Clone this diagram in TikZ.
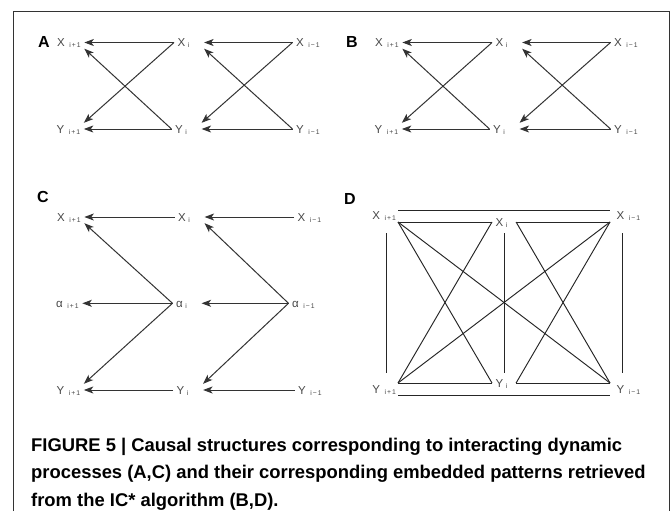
\documentclass[tikz,border=0pt]{standalone}
\usepackage{fontspec}
\setmainfont{Liberation Sans}
\usetikzlibrary{arrows.meta,calc}

% subscripted vertex labels
\newcommand{\subf}{\fontsize{6.8}{6.8}\selectfont}
\newcommand{\idxp}[1]{#1\hspace{4.5pt}\raisebox{-1pt}{\subf i\hspace{1pt}+\hspace{1pt}1}}
\newcommand{\idxz}[1]{#1\hspace{2.5pt}\raisebox{-1pt}{\subf i}}
\newcommand{\idxm}[1]{#1\hspace{4.5pt}\raisebox{-1pt}{\subf i\hspace{1pt}−\hspace{1pt}1}}
% middle label with a wider box, so incoming arrows stop short of it
\newcommand{\idxzw}[1]{\idxz{#1}\kern11pt\relax}

\tikzset{
  vlab/.style={font=\fontsize{11.5}{11.5}\selectfont, text=black!72, inner xsep=3.5pt,
    inner ysep=2pt, text height=8pt, text depth=0pt, anchor=base west},
  plab/.style={font=\bfseries\fontsize{16}{16}\selectfont, anchor=base, inner sep=0pt},
  arr/.style={draw=black!80, line width=1pt, -{Stealth[length=9.5pt,width=7pt,inset=2.5pt]}},
  und/.style={draw=black!85, line width=0.95pt},
  capline/.style={font=\bfseries\fontsize{18.4}{18.4}\selectfont, anchor=base west, inner sep=0pt},
}

% two crossed lag-one structures (panels A and B)
\newcommand{\crosspanel}[2]{%
  \begin{scope}[xshift=#2pt]
    \node[vlab] (#1x1) at (53.5,46.5) {\idxp{X}};
    \node[vlab] (#1x0) at (174,46.5) {\idxzw{X}};
    \node[vlab] (#1xm) at (292.5,46.5) {\idxm{X}};
    \node[vlab] (#1y1) at (53,133) {\idxp{Y}};
    \node[vlab] (#1y0) at (171.5,133) {\idxzw{Y}};
    \node[vlab] (#1ym) at (292.5,133) {\idxm{Y}};
    \draw[arr] (#1x0.west) -- (#1x1.east);
    \draw[arr] (#1xm.west) -- (#1x0.east);
    \draw[arr] (#1y0.west) -- (#1y1.east);
    \draw[arr] (#1ym.west) -- (#1y0.east);
    \draw[arr] (#1x0.west) -- (#1y1.north east);
    \draw[arr] (#1y0.west) -- (#1x1.south east);
    \draw[arr] (#1xm.west) -- (#1y0.north east);
    \draw[arr] (#1ym.west) -- (#1x0.south east);
  \end{scope}}

\begin{document}
\begin{tikzpicture}[x=1pt, y=-1pt]
  \useasboundingbox (0,0) rectangle (671,511);
  \fill[white] (0,0) rectangle (671,511);

  % frame, open at the bottom
  \draw[black!80, line width=1pt] (13,511) -- (13,12) -- (669.5,12) -- (669.5,511);

  % panel letters
  \node[plab] (la) at (44,48) {A};
  \node[plab] (lb) at (352,48) {B};
  \node[plab] (lc) at (43,202) {C};
  \node[plab] (ld) at (350,204) {D};

  % panels A and B
  \crosspanel{a}{0}
  \crosspanel{b}{318}

  % panel C
  \node[vlab] (xc1) at (53.5,221) {\idxp{X}};
  \node[vlab] (xc0) at (174.5,221) {\idxzw{X}};
  \node[vlab] (xcm) at (294,221) {\idxm{X}};
  \node[vlab] (ac1) at (52.5,307.3) {\idxp{α}};
  \node[vlab] (ac0) at (172.5,307.3) {\idxzw{α}};
  \node[vlab] (acm) at (288.5,307.3) {\idxm{α}};
  \node[vlab] (yc1) at (53,394) {\idxp{Y}};
  \node[vlab] (yc0) at (173,394) {\idxzw{Y}};
  \node[vlab] (ycm) at (294.5,394) {\idxm{Y}};
  \draw[arr] (xc0.west) -- (xc1.east);
  \draw[arr] (xcm.west) -- (xc0.east);
  \draw[arr] (ac0.west) -- (ac1.east);
  \draw[arr] (acm.west) -- (ac0.east);
  \draw[arr] (yc0.west) -- (yc1.east);
  \draw[arr] (ycm.west) -- (yc0.east);
  \draw[arr] (ac0.west) -- (xc1.south east);
  \draw[arr] (ac0.west) -- (yc1.north east);
  \draw[arr] (acm.west) -- (xc0.south east);
  \draw[arr] (acm.west) -- (yc0.north east);

  % panel D
  \node[vlab, anchor=south east, inner xsep=2pt] (xd1) at (398,222) {\idxp{X}};
  \node[vlab, anchor=west] (xd0) at (492,222) {\idxz{X}};
  \node[vlab, anchor=south west, inner xsep=6.5pt] (xdm) at (610,222) {\idxm{X}};
  \node[vlab, anchor=north east, inner xsep=2pt] (yd1) at (398,383) {\idxp{Y}};
  \node[vlab, anchor=west] (yd0) at (492,383) {\idxz{Y}};
  \node[vlab, anchor=north west, inner xsep=6.5pt] (ydm) at (610,383) {\idxm{Y}};
  \draw[und] (xd1.south east) -- (xd0.west);
  \draw[und] (xd1.south east) -- (yd0.west);
  \draw[und] (xd1.south east) -- (ydm.north west);
  \draw[und] (yd1.north east) -- (yd0.west);
  \draw[und] (yd1.north east) -- (xd0.west);
  \draw[und] (yd1.north east) -- (xdm.south west);
  \draw[und] (xdm.south west) -- ($(xd0.east)+(5,0)$);
  \draw[und] (xdm.south west) -- ($(yd0.east)+(5,0)$);
  \draw[und] (ydm.north west) -- ($(yd0.east)+(5,0)$);
  \draw[und] (ydm.north west) -- ($(xd0.east)+(5,0)$);
  % links drawn beside the labels
  \draw[und] ($(xd1.south east)+(-12,11)$) -- ($(yd1.north east)+(-12,-10)$);
  \draw[und] ($(xd0.west)+(12,11)$) -- ($(yd0.west)+(12,-10)$);
  \draw[und] ($(xdm.south west)+(12,11)$) -- ($(ydm.north west)+(12,-10)$);
  \draw[und] ($(xd1.south east)+(0,-12)$) -- ($(xdm.south west)+(0,-12)$);
  \draw[und] ($(yd1.north east)+(0,12)$) -- ($(ydm.north west)+(0,12)$);

  % caption
  \node[capline] (cap1) at (31,451) {FIGURE 5 | Causal structures corresponding to interacting dynamic};
  \node[capline] (cap2) at (31,478.5) {processes (A,C) and their corresponding embedded patterns retrieved};
  \node[capline] (cap3) at (31,506) {from the IC* algorithm (B,D).};
\end{tikzpicture}
\end{document}
